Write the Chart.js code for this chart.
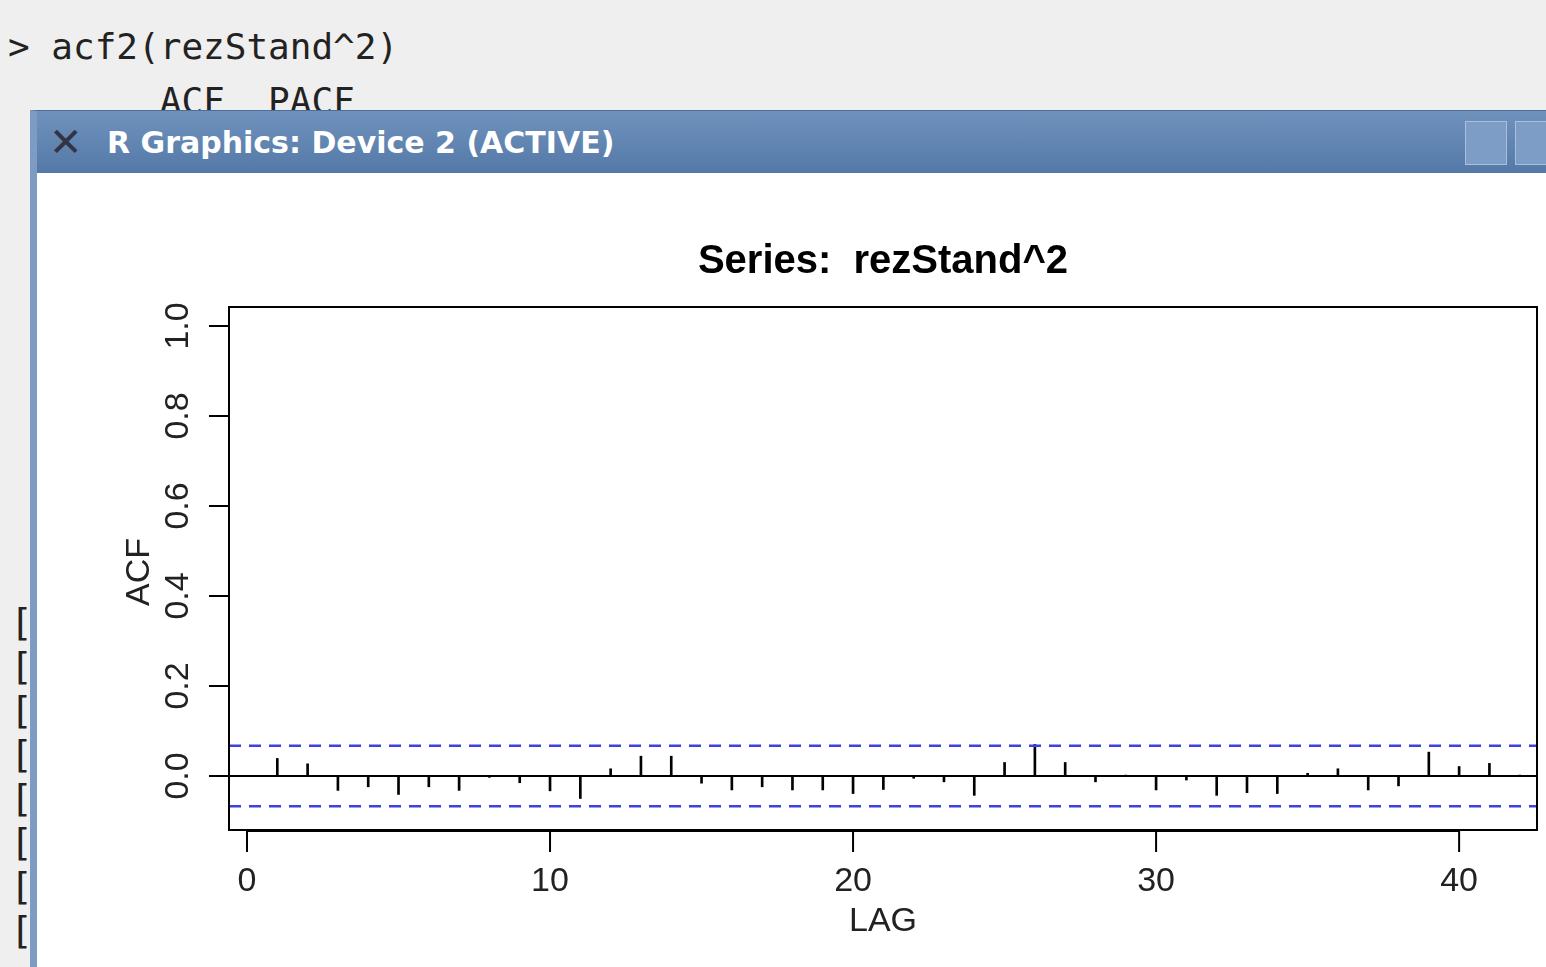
<!DOCTYPE html>
<html>
<head>
<meta charset="utf-8">
<title>acf2</title>
<script src="https://cdn.jsdelivr.net/npm/chart.js@4/dist/chart.umd.min.js"></script>
<style>
  body { margin: 0; width: 1546px; height: 967px; overflow: hidden; background: #efefef; position: relative; font-family: "DejaVu Sans Mono", monospace; }
  .term { position: absolute; left: 8px; font-size: 36px; color: #222; white-space: pre; }
  .brk { position: absolute; left: 10px; font-size: 38px; color: #222; }
  #win { position: absolute; left: 30px; top: 110px; width: 1530px; height: 870px; background: #fff; border-left: 7px solid #7d9cc4; border-top: 1px solid #4a6d99; }
  #bar { position: absolute; left: 0; top: 0; right: 0; height: 62px; background: linear-gradient(#6f92bd, #5579a7); color: #fff; font: bold 30px "DejaVu Sans", sans-serif; }
  #bar span { position: absolute; left: 70px; top: 14px; }
  #bar .x { position: absolute; left: 12px; top: 8px; font-size: 40px; color: #334; }
  .btn { position: absolute; top: 10px; width: 40px; height: 42px; border: 1px solid #a9bfdc; background: #7e9dc6; }
  #chartwrap { position: absolute; left: 0; top: 0; width: 1546px; height: 967px; }
</style>
</head>
<body>
<div class="term" style="top:26px">&gt; acf2(rezStand^2)</div>
<div class="term" style="top:80px">       ACF  PACF</div>
<div class="brk" style="top:600px">[<br>[<br>[<br>[<br>[<br>[<br>[<br>[</div>
<div id="win">
  <div id="bar"><span class="x">✕</span><span>R Graphics: Device 2 (ACTIVE)</span>
    <div class="btn" style="left:1428px"></div><div class="btn" style="left:1478px"></div></div>
</div>
<div id="chartwrap"><canvas id="c" width="1546" height="967"></canvas></div>
<script>
const lags = [1,2,3,4,5,6,7,8,9,10,11,12,13,14,15,16,17,18,19,20,21,22,23,24,25,26,27,28,29,30,31,32,33,34,35,36,37,38,39,40,41,42];
const acfValues = [0.039,0.027,-0.032,-0.024,-0.041,-0.024,-0.032,-0.003,-0.015,-0.033,-0.05,0.016,0.044,0.044,-0.016,-0.031,-0.024,-0.031,-0.031,-0.039,-0.03,-0.005,-0.013,-0.043,0.03,0.07,0.03,-0.013,0.002,-0.031,-0.009,-0.043,-0.037,-0.039,0.006,0.016,-0.031,-0.022,0.053,0.021,0.028,0.002];
const confBound = 0.067;
const xTicks = [0,10,20,30,40];
const yTicks = [0.0,0.2,0.4,0.6,0.8,1.0];
const xMin = -0.594, xMax = 42.57, yMin = -0.12, yMax = 1.042;

const rAxes = {
  id: 'rAxes',
  afterDraw(chart) {
    const ctx = chart.ctx, a = chart.chartArea, xs = chart.scales.x, ys = chart.scales.y;
    ctx.save();
    ctx.strokeStyle = '#000'; ctx.lineWidth = 2;
    ctx.strokeRect(a.left, a.top, a.right - a.left, a.bottom - a.top);
    ctx.fillStyle = '#222';
    ctx.font = '34px "Liberation Sans", Arial, sans-serif';
    // x axis
    ctx.beginPath();
    ctx.moveTo(xs.getPixelForValue(0), a.bottom + 1); ctx.lineTo(xs.getPixelForValue(40), a.bottom + 1);
    xTicks.forEach(t => { const p = xs.getPixelForValue(t); ctx.moveTo(p, a.bottom); ctx.lineTo(p, a.bottom + 22); });
    ctx.stroke();
    ctx.textAlign = 'center'; ctx.textBaseline = 'middle';
    xTicks.forEach(t => ctx.fillText(String(t), xs.getPixelForValue(t), a.bottom + 52));
    ctx.fillText('LAG', (a.left + a.right) / 2, 922);
    // y axis
    ctx.beginPath();
    yTicks.forEach(t => { const p = ys.getPixelForValue(t); ctx.moveTo(a.left, p); ctx.lineTo(a.left - 20, p); });
    ctx.stroke();
    yTicks.forEach(t => {
      ctx.save(); ctx.translate(a.left - 50, ys.getPixelForValue(t)); ctx.rotate(-Math.PI / 2);
      ctx.fillText(t.toFixed(1), 0, 0); ctx.restore();
    });
    ctx.save(); ctx.translate(140, 572); ctx.rotate(-Math.PI / 2); ctx.fillText('ACF', 0, 0); ctx.restore();
    ctx.font = 'bold 40px "Liberation Sans", Arial, sans-serif';
    ctx.fillStyle = '#000';
    ctx.fillText('Series:  rezStand^2', (a.left + a.right) / 2 + 0, 262);
    ctx.restore();
  }
};

new Chart(document.getElementById('c'), {
  type: 'bar',
  data: {
    datasets: [
      { type: 'line', data: [{x: xMin, y: 0}, {x: xMax, y: 0}], borderColor: '#000', borderWidth: 2, pointRadius: 0 },
      { type: 'line', data: [{x: xMin, y: confBound}, {x: xMax, y: confBound}], borderColor: '#4040e0', borderWidth: 2.5, borderDash: [12, 8], pointRadius: 0 },
      { type: 'line', data: [{x: xMin, y: -confBound}, {x: xMax, y: -confBound}], borderColor: '#4040e0', borderWidth: 2.5, borderDash: [12, 8], pointRadius: 0 },
      { data: lags.map((l, i) => ({x: l, y: acfValues[i]})), backgroundColor: '#000', barThickness: 2 }
    ]
  },
  options: {
    responsive: false, animation: false,
    layout: { padding: { left: 229, top: 307, right: 9, bottom: 137 } },
    plugins: { legend: { display: false }, tooltip: { enabled: false } },
    scales: {
      x: { type: 'linear', min: xMin, max: xMax, offset: false, grid: { offset: false }, display: false },
      y: { min: yMin, max: yMax, display: false }
    }
  },
  plugins: [rAxes]
});
</script>
</body>
</html>
